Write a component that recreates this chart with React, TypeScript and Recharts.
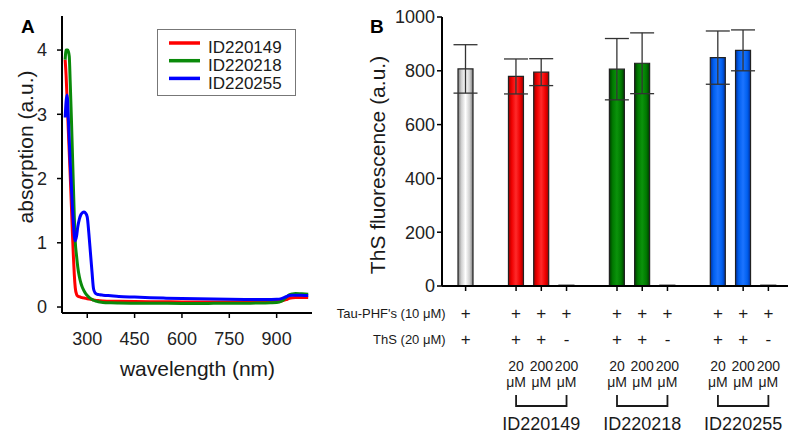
import {
  Bar,
  BarChart,
  Cell,
  ErrorBar,
  Label,
  Legend,
  Line,
  LineChart,
  XAxis,
  YAxis,
} from 'recharts'

const FONT = '"Liberation Sans", Arial, Helvetica, sans-serif'
const INK = '#1a1a1a'

// ---- panel A: absorption spectra ----
const wavelengths = [
  230, 233, 236, 238, 240, 243, 246, 250, 253, 256, 259, 262, 266, 270, 275, 280, 285, 290, 295,
  300, 305, 310, 315, 320, 325, 330, 335, 340, 350, 375, 400, 450, 500, 550, 600, 650, 700, 750,
  800, 850, 880, 900, 915, 930, 940, 950, 960, 980, 1000,
]
const absID220149 = [
  3.85, 3.6, 3.25, 3.0, 2.75, 2.4, 2.05, 1.55, 1.15, 0.8, 0.5, 0.3, 0.2, 0.17, 0.16, 0.15, 0.145,
  0.14, 0.135, 0.13, 0.125, 0.12, 0.115, 0.11, 0.105, 0.1, 0.1, 0.098, 0.095, 0.09, 0.088, 0.085,
  0.083, 0.082, 0.08, 0.08, 0.08, 0.08, 0.08, 0.082, 0.085, 0.088, 0.095, 0.115, 0.135, 0.145,
  0.15, 0.15, 0.148,
]
const absID220218 = [
  3.85, 4.0, 4.0, 4.0, 3.98, 3.9, 3.5, 2.9, 2.4, 1.9, 1.4, 1.02, 0.8, 0.62, 0.47, 0.37, 0.3, 0.25,
  0.21, 0.18, 0.155, 0.135, 0.12, 0.105, 0.095, 0.088, 0.082, 0.078, 0.072, 0.066, 0.063, 0.06,
  0.058, 0.057, 0.056, 0.056, 0.057, 0.058, 0.06, 0.062, 0.066, 0.07, 0.09, 0.15, 0.19, 0.205,
  0.21, 0.205, 0.2,
]
const absID220255 = [
  2.95, 3.2, 3.3, 3.2, 2.95, 2.6, 2.25, 1.85, 1.55, 1.3, 1.1, 1.03, 1.1, 1.25, 1.37, 1.44, 1.47,
  1.48, 1.46, 1.4, 1.15, 0.85, 0.55, 0.28, 0.22, 0.2, 0.195, 0.19, 0.185, 0.175, 0.165, 0.155,
  0.145, 0.138, 0.132, 0.127, 0.123, 0.12, 0.118, 0.117, 0.118, 0.12, 0.13, 0.16, 0.18, 0.185,
  0.185, 0.182, 0.18,
]
const wavelengthTicks = [300, 450, 600, 750, 900]
const absorptionTicks = [0, 1, 2, 3, 4]

const compounds = ['ID220149', 'ID220218', 'ID220255']
const spectra = [absID220149, absID220218, absID220255]
const lineColors = ['#ff0000', '#0a8a0a', '#0000ff']

// ---- panel B: ThS fluorescence ----
const slots = ['ctrl', 'gap1', 'a20', 'a200', 'a200n', 'gap2', 'b20', 'b200', 'b200n', 'gap3', 'c20', 'c200', 'c200n']
const slotCompound = ['control', '', 'ID220149', 'ID220149', 'ID220149', '', 'ID220218', 'ID220218', 'ID220218', '', 'ID220255', 'ID220255', 'ID220255']
const fluorescence = [807, null, 779, 795, 3, null, 806, 828, 3, null, 849, 876, 3]
const fluorescenceErr = [90, null, 65, 50, 0, null, 114, 113, 0, null, 99, 76, 0]
const tauRow = ['+', '', '+', '+', '+', '', '+', '+', '+', '', '+', '+', '+']
const thsRow = ['+', '', '+', '+', '-', '', '+', '+', '-', '', '+', '+', '-']
const concRow = ['', '', '20', '200', '200', '', '20', '200', '200', '', '20', '200', '200']
const fluorescenceTicks = [0, 200, 400, 600, 800, 1000]

const barGradients: Record<string, string[]> = {
  control: ['#7a7a7a', '#cfcfcf', '#ffffff', '#cfcfcf', '#7a7a7a'],
  ID220149: ['#a00000', '#f00000', '#ff2a2a', '#f00000', '#a00000'],
  ID220218: ['#003c00', '#007a00', '#0b930b', '#007a00', '#003c00'],
  ID220255: ['#0030a0', '#0060f0', '#1c74ff', '#0060f0', '#0030a0'],
}

const absorptionData = wavelengths.map((w, i) => ({
  wavelength: w,
  [compounds[0]]: spectra[0][i],
  [compounds[1]]: spectra[1][i],
  [compounds[2]]: spectra[2][i],
}))

const fluorescenceData = slots.map((slot, i) => ({
  slot,
  value: fluorescence[i],
  err: fluorescenceErr[i],
}))

// width of one category band in panel B (plot width minus padding, / slots)
const SLOT = (346 - 11 - 7) / slots.length

function SpectraLegend({ payload }: any) {
  return (
    <svg width={139} height={67} style={{ display: 'block' }}>
      <rect x={0.5} y={0.5} width={138} height={66} fill="#fff" stroke="#777" />
      {(payload || []).map((p: any, i: number) => (
        <g key={p.value}>
          <line x1={12} x2={43} y1={14 + i * 17.7} y2={14 + i * 17.7} stroke={p.color} strokeWidth={3.5} />
          <text x={51} y={23.5 + i * 18.2} fontSize={17} fontFamily={FONT} fill={INK}>
            {p.value}
          </text>
        </g>
      ))}
    </svg>
  )
}

function TableTick(props: any) {
  const { x, y, index: i } = props
  const mid = concRow[i] === '200' && concRow[i - 1] === '20'
  return (
    <g fontFamily={FONT} fill={INK}>
      {tauRow[i] && <line x1={x} x2={x} y1={y} y2={y + 5} stroke="#000" strokeWidth={1.5} />}
      {i === 0 && (
        <>
          <text x={x - 20} y={y + 31.5} textAnchor="end" fontSize={13}>
            Tau-PHF's (10 μM)
          </text>
          <text x={x - 20} y={y + 57.5} textAnchor="end" fontSize={13}>
            ThS (20 μM)
          </text>
        </>
      )}
      <text x={x} y={y + 33} textAnchor="middle" fontSize={17}>
        {tauRow[i]}
      </text>
      <text x={x} y={y + 59} textAnchor="middle" fontSize={17}>
        {thsRow[i]}
      </text>
      {concRow[i] && (
        <>
          <text x={x} y={y + 85} textAnchor="middle" fontSize={14}>
            {concRow[i]}
          </text>
          <text x={x} y={y + 101} textAnchor="middle" fontSize={14}>
            μM
          </text>
        </>
      )}
      {mid && (
        <>
          <path
            d={`M${x - SLOT},${y + 109}V${y + 120}H${x + SLOT}V${y + 109}`}
            fill="none"
            stroke={INK}
            strokeWidth={1.8}
          />
          <text x={x} y={y + 143.5} textAnchor="middle" fontSize={18}>
            {slotCompound[i]}
          </text>
        </>
      )}
    </g>
  )
}

function PanelLetter({ text, left }: { text: string; left: number }) {
  return (
    <div
      style={{
        position: 'absolute',
        left,
        top: 17,
        fontFamily: FONT,
        fontWeight: 'bold',
        fontSize: 19,
        lineHeight: '19px',
        color: '#000',
      }}
    >
      {text}
    </div>
  )
}

const axisTick = { fontSize: 18, fill: '#222', fontFamily: FONT }
const frame = { stroke: '#000', strokeWidth: 2 }

export default function App() {
  return (
    <div style={{ position: 'absolute', left: 0, top: 0, width: 800, height: 442, background: '#fff' }}>
      <div style={{ position: 'absolute', left: 0, top: 0 }}>
        <LineChart
          width={330}
          height={442}
          data={absorptionData}
          margin={{ top: 16, right: 18, bottom: 0, left: 0 }}
          style={{ fontFamily: FONT }}
        >
          <XAxis
            dataKey="wavelength"
            type="number"
            domain={[220, 1012]}
            ticks={wavelengthTicks}
            allowDataOverflow
            height={129}
            tick={axisTick}
            tickSize={5}
            tickMargin={14}
            axisLine={frame}
            tickLine={{ stroke: '#000', strokeWidth: 1.5 }}
          >
            <Label
              content={({ viewBox }: any) => (
                <text
                  x={viewBox.x + 135.5}
                  y={viewBox.y + 63}
                  textAnchor="middle"
                  fontSize={21}
                  fontFamily={FONT}
                  fill={INK}
                >
                  wavelength (nm)
                </text>
              )}
            />
          </XAxis>
          <XAxis
            xAxisId="top"
            dataKey="wavelength"
            type="number"
            orientation="top"
            domain={[220, 1012]}
            allowDataOverflow
            height={0}
            tick={false}
            tickLine={false}
            axisLine={frame}
          />
          <YAxis
            type="number"
            domain={[-0.093, 4.53]}
            ticks={absorptionTicks}
            allowDataOverflow
            width={62}
            tick={axisTick}
            tickSize={5}
            tickMargin={10}
            axisLine={frame}
            tickLine={{ stroke: '#000', strokeWidth: 1.5 }}
          >
            <Label
              content={({ viewBox }: any) => {
                const cx = viewBox.x + 25
                const cy = viewBox.y + 131
                return (
                  <text
                    x={cx}
                    y={cy}
                    transform={`rotate(-90 ${cx} ${cy})`}
                    textAnchor="middle"
                    dominantBaseline="central"
                    fontSize={21}
                    fontFamily={FONT}
                    fill={INK}
                  >
                    absorption (a.u.)
                  </text>
                )
              }}
            />
          </YAxis>
          <YAxis
            yAxisId="right"
            orientation="right"
            type="number"
            domain={[0, 1]}
            width={0}
            tick={false}
            tickLine={false}
            axisLine={frame}
          />
          <Legend
            verticalAlign="middle"
            align="center"
            layout="horizontal"
            content={<SpectraLegend />}
            wrapperStyle={{ left: 157, top: 29, width: 139, height: 67 }}
          />
          {compounds.map((name, i) => (
            <Line
              key={name}
              dataKey={name}
              name={name}
              type="monotone"
              stroke={lineColors[i]}
              strokeWidth={3}
              dot={false}
              isAnimationActive={false}
            />
          ))}
        </LineChart>
      </div>

      <div style={{ position: 'absolute', left: 320, top: 0 }}>
        <BarChart
          width={480}
          height={442}
          data={fluorescenceData}
          margin={{ top: 17, right: 12, bottom: 0, left: 0 }}
          style={{ fontFamily: FONT, overflow: 'visible' }}
        >
          <defs>
            {Object.entries(barGradients).map(([key, stops]) => (
              <linearGradient key={key} id={`bar-${key}`} x1="0" y1="0" x2="1" y2="0">
                <stop offset="0%" stopColor={stops[0]} />
                <stop offset="22%" stopColor={stops[1]} />
                <stop offset="50%" stopColor={stops[2]} />
                <stop offset="78%" stopColor={stops[3]} />
                <stop offset="100%" stopColor={stops[4]} />
              </linearGradient>
            ))}
          </defs>
          <XAxis
            dataKey="slot"
            interval={0}
            padding={{ left: 11, right: 7 }}
            height={156}
            tick={<TableTick />}
            tickSize={0}
            tickMargin={0}
            tickLine={false}
            axisLine={frame}
          />
          <XAxis
            xAxisId="top"
            dataKey="slot"
            orientation="top"
            height={0}
            tick={false}
            tickLine={false}
            axisLine={frame}
          />
          <YAxis
            type="number"
            domain={[0, 1000]}
            ticks={fluorescenceTicks}
            width={122}
            tick={axisTick}
            tickSize={5}
            tickMargin={2}
            axisLine={frame}
            tickLine={{ stroke: '#000', strokeWidth: 1.5 }}
          >
            <Label
              content={({ viewBox }: any) => {
                const cx = viewBox.x + 57
                const cy = viewBox.y + 148
                return (
                  <text
                    x={cx}
                    y={cy}
                    transform={`rotate(-90 ${cx} ${cy})`}
                    textAnchor="middle"
                    dominantBaseline="central"
                    fontSize={21}
                    fontFamily={FONT}
                    fill={INK}
                  >
                    ThS fluorescence (a.u.)
                  </text>
                )
              }}
            />
          </YAxis>
          <YAxis
            yAxisId="right"
            orientation="right"
            type="number"
            domain={[0, 1000]}
            width={0}
            tick={false}
            tickLine={false}
            axisLine={frame}
          />
          <Bar dataKey="value" barSize={15} stroke="#222" strokeWidth={1.2} isAnimationActive={false}>
            {fluorescenceData.map((d, i) => (
              <Cell key={d.slot} fill={`url(#bar-${slotCompound[i] || 'control'})`} />
            ))}
            <ErrorBar dataKey="err" width={12} stroke="#333" strokeWidth={1.3} />
          </Bar>
        </BarChart>
      </div>

      <PanelLetter text="A" left={21} />
      <PanelLetter text="B" left={370} />
    </div>
  )
}
